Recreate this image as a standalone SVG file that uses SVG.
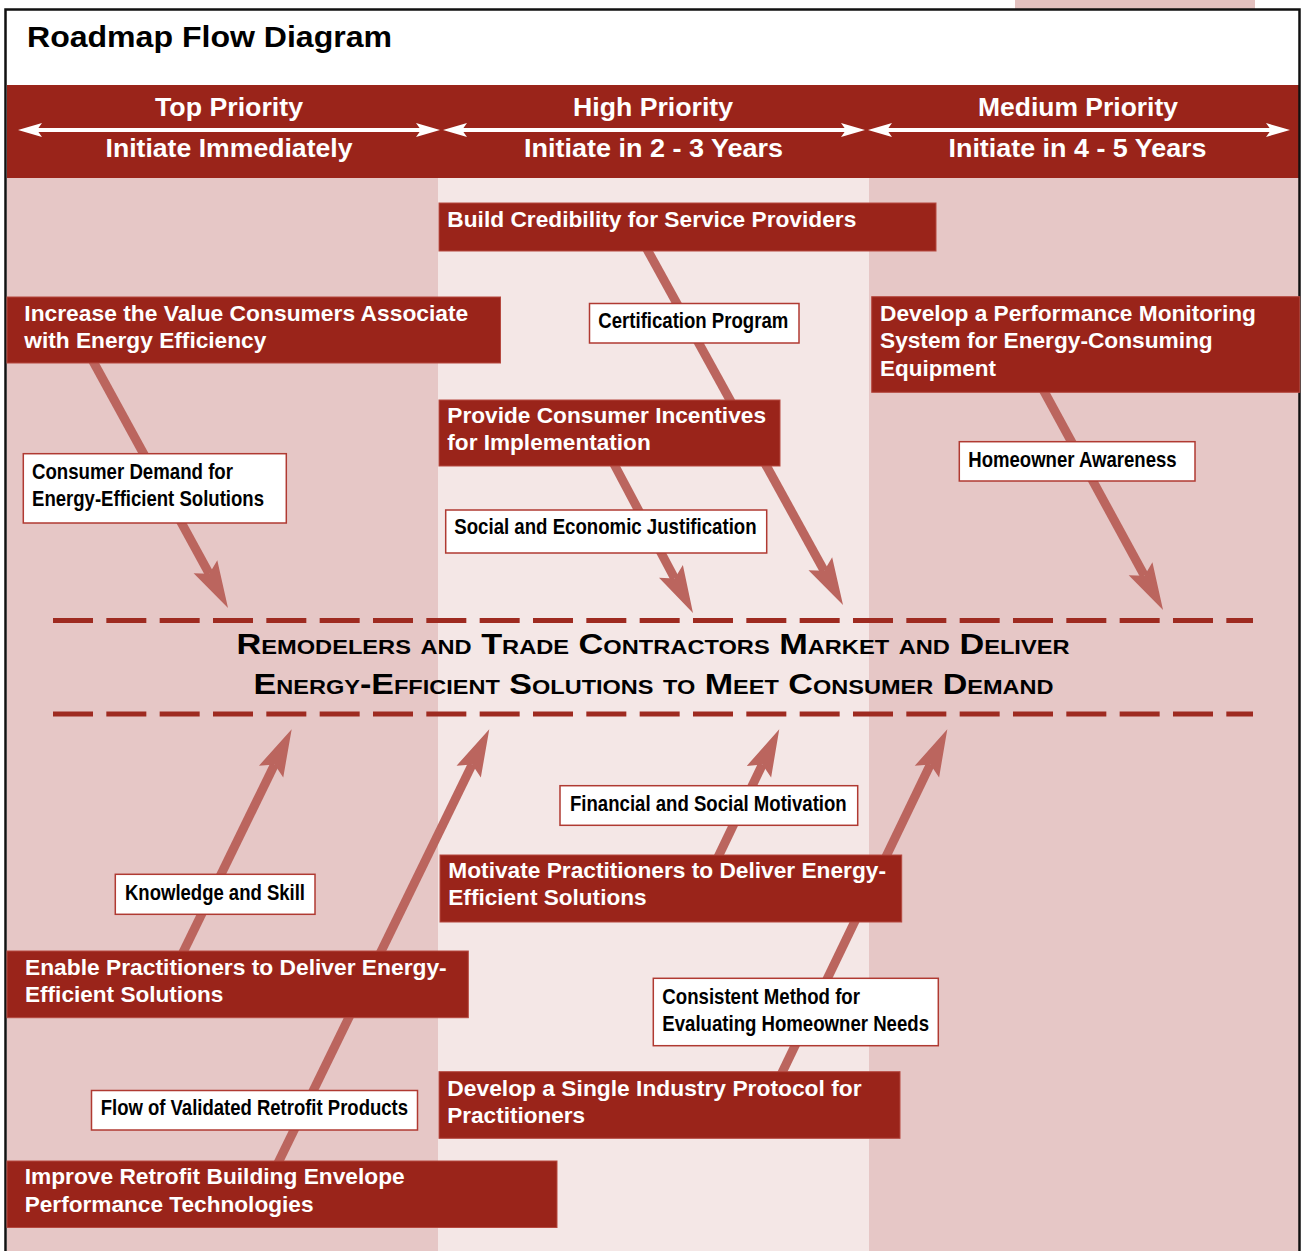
<svg xmlns="http://www.w3.org/2000/svg" width="1306" height="1251" viewBox="0 0 1306 1251">
<defs>
<style>
.hd{fill:#fff;font-family:"Liberation Sans",Arial,Helvetica,sans-serif;font-weight:bold;font-size:26px;text-anchor:middle}
.ha{fill:#fff;stroke:none}
.nb{fill:#9A241A;stroke:#B5483F;stroke-width:1}
.nt{fill:#fff;font-family:"Liberation Sans",Arial,Helvetica,sans-serif;font-weight:bold;font-size:22px}
.lb{fill:#fff;stroke:#B03A32;stroke-width:1.5}
.lt{fill:#000;font-family:"Liberation Sans Narrow","Liberation Sans",Arial,sans-serif;font-weight:bold;font-size:22px}
.cn{stroke:#BB655E;stroke-width:9;fill:none;marker-end:url(#ah)}
.ds{stroke:#9E2A20;stroke-width:5;stroke-dasharray:40 13.333;fill:none}
.ct{fill:#000;font-family:"Liberation Sans",Arial,Helvetica,sans-serif;font-weight:bold;font-size:29px;font-variant:small-caps;text-anchor:middle}
</style>
<marker id="ah" markerUnits="userSpaceOnUse" orient="auto" refX="0" refY="0" markerWidth="60" markerHeight="40" viewBox="-10 -20 60 40" overflow="visible">
<path d="M39,0 L-8,-13.5 L0,0 L-8,13.5 Z" fill="#BB655E"/>
</marker>
</defs>

<g id="background">
<rect x="0" y="0" width="1306" height="1251" fill="#fff"/>
<rect x="1015" y="0" width="240" height="9" fill="#E3C1BF"/>
<rect x="7" y="85" width="1292" height="93" fill="#9A241A"/>
<rect x="7" y="178" width="431" height="1073" fill="#E6C7C6"/>
<rect x="438" y="178" width="431" height="1073" fill="#F4E7E6"/>
<rect x="869" y="178" width="430" height="1073" fill="#E6C7C6"/>
<path d="M5.5,1262 V9.5 H1299.5 V1262" fill="none" stroke="#111" stroke-width="2.5"/>
<text x="27" y="47" font-family="Liberation Sans, Arial, Helvetica, sans-serif" font-weight="bold" font-size="30" fill="#000" textLength="365" lengthAdjust="spacingAndGlyphs">Roadmap Flow Diagram</text>
</g>

<g id="header-top">
<text class="hd" x="229" y="116" textLength="148" lengthAdjust="spacingAndGlyphs">Top Priority</text>
<line x1="34" y1="130" x2="424" y2="130" stroke="#fff" stroke-width="4"/>
<path class="ha" d="M18,130 L42,123 L37,130 L42,137 Z"/>
<path class="ha" d="M440,130 L416,123 L421,130 L416,137 Z"/>
<text class="hd" x="229" y="157" textLength="247" lengthAdjust="spacingAndGlyphs">Initiate Immediately</text>
</g>
<g id="header-high">
<text class="hd" x="653" y="116" textLength="160" lengthAdjust="spacingAndGlyphs">High Priority</text>
<line x1="459" y1="130" x2="849" y2="130" stroke="#fff" stroke-width="4"/>
<path class="ha" d="M443,130 L467,123 L462,130 L467,137 Z"/>
<path class="ha" d="M865,130 L841,123 L846,130 L841,137 Z"/>
<text class="hd" x="653.5" y="157" textLength="259" lengthAdjust="spacingAndGlyphs">Initiate in 2 - 3 Years</text>
</g>
<g id="header-medium">
<text class="hd" x="1078" y="116" textLength="200" lengthAdjust="spacingAndGlyphs">Medium Priority</text>
<line x1="884" y1="130" x2="1274" y2="130" stroke="#fff" stroke-width="4"/>
<path class="ha" d="M868,130 L892,123 L887,130 L892,137 Z"/>
<path class="ha" d="M1290,130 L1266,123 L1271,130 L1266,137 Z"/>
<text class="hd" x="1077.5" y="157" textLength="258" lengthAdjust="spacingAndGlyphs">Initiate in 4 - 5 Years</text>
</g>

<g id="connectors">
<line class="cn" x1="88.5" y1="353" x2="209.3" y2="573.8"/>
<line class="cn" x1="643" y1="242" x2="824.2" y2="570.8"/>
<line class="cn" x1="610.8" y1="458" x2="674.7" y2="578.5"/>
<line class="cn" x1="1040.6" y1="385" x2="1144.4" y2="575.7"/>
<line class="cn" x1="179.3" y1="960" x2="274.6" y2="764.4"/>
<line class="cn" x1="274.6" y1="1170" x2="472.2" y2="764.4"/>
<line class="cn" x1="714.7" y1="864" x2="762.4" y2="764.5"/>
<line class="cn" x1="778.5" y1="1080" x2="930.4" y2="764.4"/>
</g>

<g id="center">
<line class="ds" x1="53" y1="620.5" x2="1253" y2="620.5"/>
<line class="ds" x1="53" y1="714" x2="1253" y2="714"/>
<text class="ct" x="653" y="654" textLength="833" lengthAdjust="spacingAndGlyphs">Remodelers and Trade Contractors Market and Deliver</text>
<text class="ct" x="653.5" y="693.5" textLength="800" lengthAdjust="spacingAndGlyphs">Energy-Efficient Solutions to Meet Consumer Demand</text>
</g>

<g id="n-build-credibility">
<rect class="nb" x="439" y="203" width="497" height="48"/>
<text class="nt" x="447.3" y="227.3" textLength="409" lengthAdjust="spacingAndGlyphs">Build Credibility for Service Providers</text>
</g>
<g id="n-increase-value">
<rect class="nb" x="7" y="297" width="493.5" height="66"/>
<text class="nt" x="24.3" y="320.7" textLength="444" lengthAdjust="spacingAndGlyphs">Increase the Value Consumers Associate</text>
<text class="nt" x="24.3" y="347.7" textLength="242" lengthAdjust="spacingAndGlyphs">with Energy Efficiency</text>
</g>
<g id="l-certification">
<rect class="lb" x="589.5" y="303.5" width="209.5" height="39.5"/>
<text class="lt" x="598.3" y="327.7" textLength="190" lengthAdjust="spacingAndGlyphs">Certification Program</text>
</g>
<g id="n-develop-monitoring">
<rect class="nb" x="871.7" y="296.7" width="428" height="95.6"/>
<text class="nt" x="880" y="321" textLength="376" lengthAdjust="spacingAndGlyphs">Develop a Performance Monitoring</text>
<text class="nt" x="880" y="348.3" textLength="332.7" lengthAdjust="spacingAndGlyphs">System for Energy-Consuming</text>
<text class="nt" x="880" y="376" textLength="116" lengthAdjust="spacingAndGlyphs">Equipment</text>
</g>
<g id="n-provide-incentives">
<rect class="nb" x="439" y="400" width="341" height="66"/>
<text class="nt" x="447.3" y="423" textLength="318.7" lengthAdjust="spacingAndGlyphs">Provide Consumer Incentives</text>
<text class="nt" x="447.3" y="450" textLength="203.4" lengthAdjust="spacingAndGlyphs">for Implementation</text>
</g>
<g id="l-homeowner-awareness">
<rect class="lb" x="959.3" y="441.7" width="235.7" height="39.3"/>
<text class="lt" x="968.3" y="466.7" textLength="208.3" lengthAdjust="spacingAndGlyphs">Homeowner Awareness</text>
</g>
<g id="l-consumer-demand">
<rect class="lb" x="23.3" y="453.7" width="263" height="69.3"/>
<text class="lt" x="32" y="479" textLength="201" lengthAdjust="spacingAndGlyphs">Consumer Demand for</text>
<text class="lt" x="32" y="505.7" textLength="232" lengthAdjust="spacingAndGlyphs">Energy-Efficient Solutions</text>
</g>
<g id="l-social-economic">
<rect class="lb" x="445.7" y="510" width="321" height="43"/>
<text class="lt" x="454.3" y="534" textLength="302.3" lengthAdjust="spacingAndGlyphs">Social and Economic Justification</text>
</g>
<g id="l-financial-social">
<rect class="lb" x="560" y="785.7" width="297.7" height="39.6"/>
<text class="lt" x="570" y="810.7" textLength="276.7" lengthAdjust="spacingAndGlyphs">Financial and Social Motivation</text>
</g>
<g id="n-motivate">
<rect class="nb" x="440" y="855" width="461.7" height="67"/>
<text class="nt" x="448.3" y="878.3" textLength="437.7" lengthAdjust="spacingAndGlyphs">Motivate Practitioners to Deliver Energy-</text>
<text class="nt" x="448.3" y="905" textLength="198.3" lengthAdjust="spacingAndGlyphs">Efficient Solutions</text>
</g>
<g id="l-knowledge-skill">
<rect class="lb" x="115.3" y="874.3" width="199.7" height="40"/>
<text class="lt" x="125" y="900" textLength="180" lengthAdjust="spacingAndGlyphs">Knowledge and Skill</text>
</g>
<g id="n-enable">
<rect class="nb" x="7" y="951" width="461.3" height="66.7"/>
<text class="nt" x="25" y="975" textLength="421.7" lengthAdjust="spacingAndGlyphs">Enable Practitioners to Deliver Energy-</text>
<text class="nt" x="25" y="1001.7" textLength="198.3" lengthAdjust="spacingAndGlyphs">Efficient Solutions</text>
</g>
<g id="l-consistent-method">
<rect class="lb" x="653.3" y="978.3" width="285" height="67.4"/>
<text class="lt" x="662.3" y="1004" textLength="197.7" lengthAdjust="spacingAndGlyphs">Consistent Method for</text>
<text class="lt" x="662.3" y="1030.7" textLength="266.7" lengthAdjust="spacingAndGlyphs">Evaluating Homeowner Needs</text>
</g>
<g id="n-single-protocol">
<rect class="nb" x="439" y="1071.7" width="461" height="66.6"/>
<text class="nt" x="447.3" y="1096" textLength="414.3" lengthAdjust="spacingAndGlyphs">Develop a Single Industry Protocol for</text>
<text class="nt" x="447.3" y="1122.7" textLength="137.7" lengthAdjust="spacingAndGlyphs">Practitioners</text>
</g>
<g id="l-flow-validated">
<rect class="lb" x="91.5" y="1090.5" width="326" height="39.5"/>
<text class="lt" x="100.7" y="1115" textLength="307.3" lengthAdjust="spacingAndGlyphs">Flow of Validated Retrofit Products</text>
</g>
<g id="n-improve-retrofit">
<rect class="nb" x="7" y="1161" width="550" height="66.5"/>
<text class="nt" x="24.7" y="1184" textLength="380" lengthAdjust="spacingAndGlyphs">Improve Retrofit Building Envelope</text>
<text class="nt" x="24.7" y="1212" textLength="288.8" lengthAdjust="spacingAndGlyphs">Performance Technologies</text>
</g>
</svg>
